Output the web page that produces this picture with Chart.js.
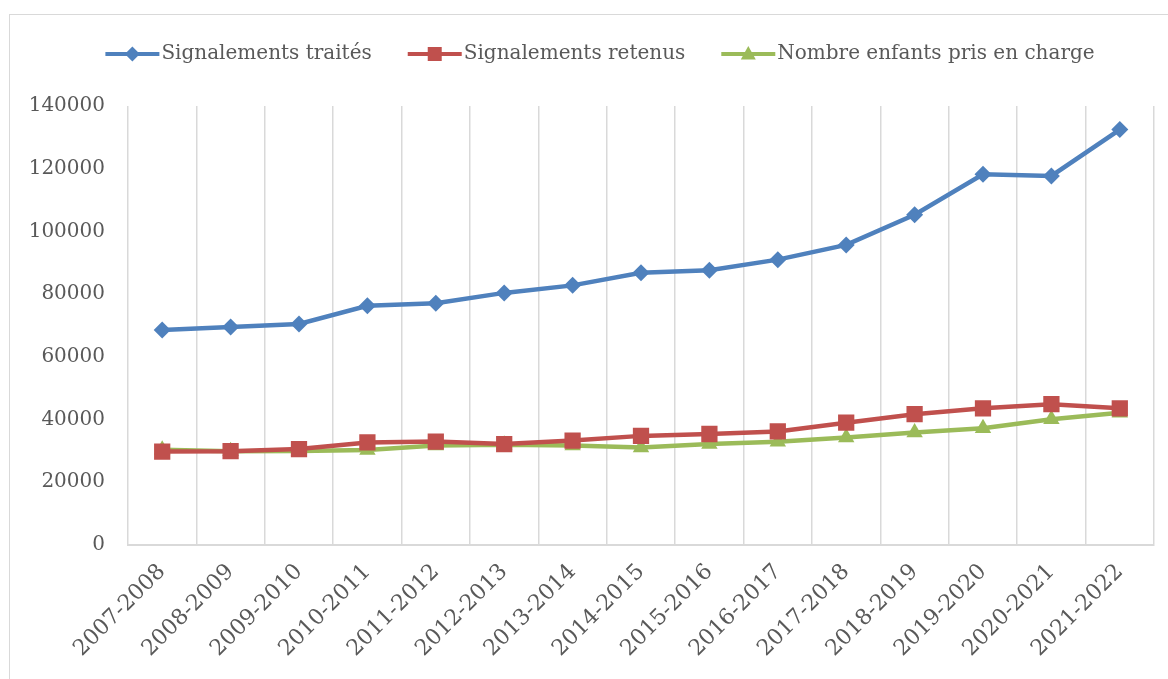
<!DOCTYPE html>
<html>
<head>
<meta charset="utf-8">
<script src="https://cdn.jsdelivr.net/npm/chart.js@4"></script>
<style>
  html, body { margin: 0; padding: 0; background: #fff; }
  #frame {
    position: absolute; left: 9px; top: 14px; width: 1170px; height: 680px;
    border: 1px solid #d9d9d9; box-sizing: border-box;
  }
  #wrap { position: absolute; left: 0; top: 0; width: 1168px; height: 679px; }
</style>
</head>
<body>
<div id="frame"></div>
<div id="wrap"><canvas id="signalements-chart"></canvas></div>
<script>
const years = ['2007-2008', '2008-2009', '2009-2010', '2010-2011', '2011-2012', '2012-2013', '2013-2014',
    '2014-2015', '2015-2016', '2016-2017', '2017-2018', '2018-2019', '2019-2020', '2020-2021', '2021-2022'];
const traites = [68600, 69500, 70500, 76300, 77100, 80400, 82800, 86800, 87600, 91000, 95700, 105300, 118200, 117700, 132500];
const retenus = [29800, 29900, 30600, 32700, 33000, 32200, 33300, 34800, 35400, 36200, 39000, 41700, 43600, 44900, 43600];
const enfants = [30400, 29900, 30000, 30300, 31700, 32000, 31700, 31100, 32200, 32900, 34300, 35900, 37200, 40100, 42200];
const yTicks = [0, 20000, 40000, 60000, 80000, 100000, 120000, 140000];

const series = [
    { label: 'Signalements traités', data: traites, color: '#4f81bd', style: 'rectRot', radius: 8.5 },
    { label: 'Signalements retenus', data: retenus, color: '#c0504d', style: 'rect', radius: 11.5 },
    { label: 'Nombre enfants pris en charge', data: enfants, color: '#9bbb59', style: 'triangle', radius: 9.5 }
];

const textColor = '#595959';
const fontFamily = '"DejaVu Serif", "Liberation Serif", serif';
const legendShift = 23;

function drawMarker(ctx, style, x, y, color) {
    ctx.save();
    ctx.fillStyle = color;
    ctx.beginPath();
    if (style === 'rectRot') {
        ctx.moveTo(x, y - 7.5);
        ctx.lineTo(x + 7.5, y);
        ctx.lineTo(x, y + 7.5);
        ctx.lineTo(x - 7.5, y);
    } else if (style === 'rect') {
        ctx.rect(x - 7, y - 7, 14, 14);
    } else {
        ctx.moveTo(x, y - 8);
        ctx.lineTo(x + 7.5, y + 5.5);
        ctx.lineTo(x - 7.5, y + 5.5);
    }
    ctx.closePath();
    ctx.fill();
    ctx.restore();
}

// legend shows a line with the marker in its middle, like the original
const legendMarkers = {
    id: 'legendMarkers',
    beforeLayout(chart) {
        const lg = chart.legend;
        if (lg && !lg._patched) {
            const fit = lg.fit;
            lg.fit = function () {
                fit.call(this);
                this.height += 32;
            };
            const draw = lg.draw;
            lg.draw = function () {
                this.ctx.save();
                this.ctx.translate(legendShift, 0);
                draw.call(this);
                this.ctx.restore();
            };
            lg._patched = true;
        }
    },
    afterDraw(chart) {
        const legend = chart.legend;
        if (!legend || !legend.legendHitBoxes) return;
        const c = chart.ctx;
        const fontSize = legend.options.labels.font.size;
        legend.legendHitBoxes.forEach((box, i) => {
            const s = series[i];
            const x = box.left + legendShift;
            const y = box.top + fontSize / 2;
            c.save();
            c.strokeStyle = s.color;
            c.lineWidth = 4;
            c.beginPath();
            c.moveTo(x, y);
            c.lineTo(x + 54, y);
            c.stroke();
            c.restore();
            drawMarker(c, s.style, x + 27, y, s.color);
        });
    }
};

const canvas = document.getElementById('signalements-chart');
const ctx = canvas.getContext('2d');

new Chart(ctx, {
    type: 'line',
    data: {
        labels: years,
        datasets: series.map(s => ({
            label: s.label,
            data: s.data,
            borderColor: s.color,
            backgroundColor: s.color,
            borderWidth: 4.5,
            pointStyle: s.style,
            pointRadius: s.radius,
            pointBorderWidth: 0,
            pointBackgroundColor: s.color,
            tension: 0,
            fill: false
        }))
    },
    options: {
        responsive: true,
        maintainAspectRatio: false,
        animation: false,
        layout: {
            padding: { top: 8, left: 0, right: 14, bottom: 0 }
        },
        scales: {
            x: {
                offset: true,
                grid: {
                    display: true,
                    offset: true,
                    color: '#d9d9d9',
                    lineWidth: 1.5,
                    drawTicks: false
                },
                border: { display: true, color: '#d9d9d9', width: 2 },
                ticks: {
                    color: textColor,
                    font: { family: fontFamily, size: 22 },
                    maxRotation: 45,
                    minRotation: 45,
                    padding: 14,
                    autoSkip: false
                },
                afterFit(scale) {
                    scale.height = 134;
                }
            },
            y: {
                min: 0,
                max: 140000,
                grid: { display: false },
                border: { display: false },
                afterBuildTicks(scale) {
                    scale.ticks = yTicks.map(v => ({ value: v }));
                },
                ticks: {
                    color: textColor,
                    font: { family: fontFamily, size: 20 },
                    padding: 15,
                    callback: v => String(v)
                },
                afterFit(scale) {
                    scale.width = 128;
                }
            }
        },
        plugins: {
            legend: {
                display: true,
                position: 'top',
                labels: {
                    color: textColor,
                    font: { family: fontFamily, size: 20 },
                    boxWidth: 46,
                    boxHeight: 4,
                    padding: 36,
                    generateLabels: chart => series.map((s, i) => ({
                        text: s.label,
                        fillStyle: 'rgba(0,0,0,0)',
                        strokeStyle: 'rgba(0,0,0,0)',
                        lineWidth: 0,
                        hidden: false,
                        datasetIndex: i,
                        fontColor: textColor
                    }))
                }
            },
            tooltip: { enabled: false }
        }
    },
    plugins: [legendMarkers]
});
</script>
</body>
</html>
